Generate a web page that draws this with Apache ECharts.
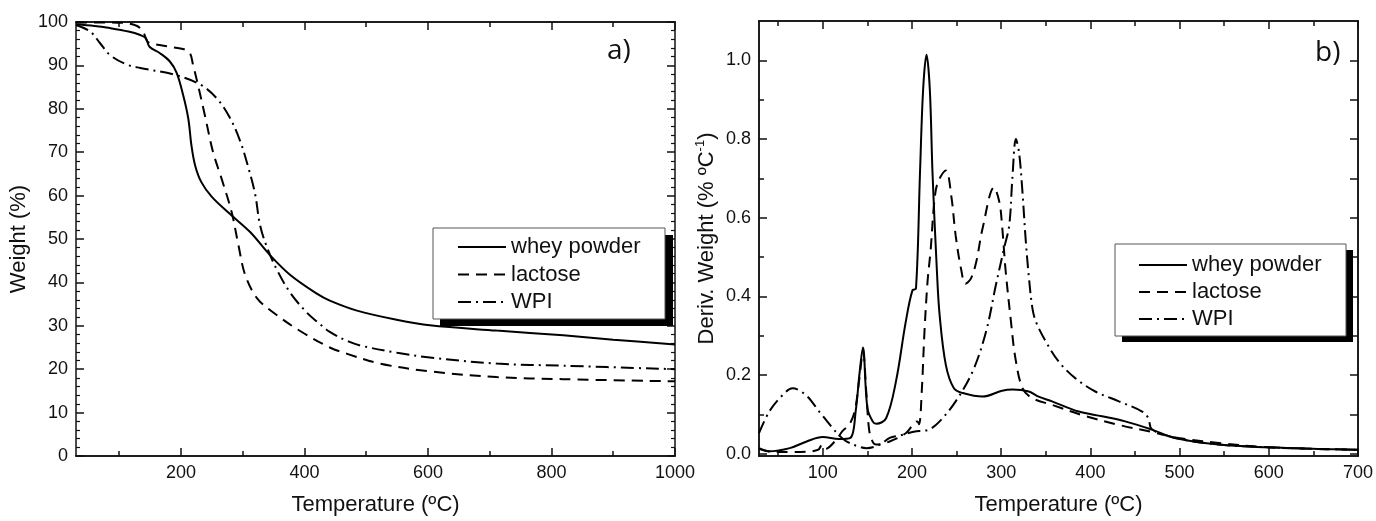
<!DOCTYPE html>
<html>
<head>
<meta charset="utf-8">
<script src="https://cdn.jsdelivr.net/npm/echarts@6/dist/echarts.min.js"></script>
<style>
  html, body { margin: 0; padding: 0; background: #fff; }
  #main { width: 1376px; height: 521px; }
</style>
</head>
<body>
<div id="main"></div>
<script>
var FONT = 'Liberation Sans';
var INK = '#111';

// a) TGA curves, temperature (ºC) vs weight (%)
var wheyT = [30, 60, 85, 115, 134, 143, 149, 166, 182, 193, 204, 212, 217, 223, 233, 250, 279, 312, 344, 377, 420, 441, 485, 549, 603, 711, 819, 900, 1000];
var wheyW = [99.4, 99.1, 98.6, 97.8, 97.0, 96.3, 94.3, 92.8, 90.9, 88.3, 82.9, 77.6, 71.5, 66.9, 63.1, 59.7, 55.8, 51.6, 46.3, 41.7, 37.4, 35.8, 33.5, 31.4, 30.1, 28.9, 27.8, 26.8, 25.7];
var lactT = [30, 70, 107, 125, 134, 140, 145, 150, 177, 212, 220, 228, 239, 252, 266, 282, 293, 304, 323, 350, 393, 441, 468, 522, 603, 711, 819, 1000];
var lactW = [99.8, 99.9, 99.8, 99.3, 98.6, 97.4, 95.6, 95.1, 94.4, 93.2, 89.8, 85.2, 78.3, 70.0, 63.8, 56.2, 48.6, 41.7, 36.4, 33.0, 28.8, 25.0, 23.6, 21.3, 19.5, 18.2, 17.7, 17.2];
var wpiT = [30, 53, 69, 85, 112, 134, 188, 231, 258, 279, 296, 309, 320, 328, 339, 355, 377, 404, 420, 441, 471, 495, 550, 603, 711, 819, 1000];
var wpiW = [99.3, 97.8, 95.1, 92.4, 90.2, 89.4, 87.9, 85.6, 82.4, 78.0, 72.5, 66.5, 60.4, 53.2, 48.2, 43.0, 37.6, 33.0, 31.0, 28.6, 26.4, 25.3, 23.8, 22.7, 21.3, 20.8, 20.0];

// b) DTG curves, temperature (ºC) vs deriv. weight (% ºC-1)
var wheyDT = [28.5, 40, 63, 82, 100, 118, 131, 137, 141, 145, 150, 156, 160, 171, 182, 193, 200.5, 204.5, 209, 212.5, 216.3, 220, 223, 228, 231, 238, 247, 257, 279, 301, 313, 331, 342, 357, 387, 413, 439, 469, 495, 544, 599, 655, 700];
var wheyDV = [0.014, 0.006, 0.014, 0.031, 0.042, 0.037, 0.04, 0.11, 0.2, 0.27, 0.116, 0.082, 0.076, 0.09, 0.183, 0.335, 0.415, 0.42, 0.715, 0.926, 1.014, 0.926, 0.715, 0.462, 0.352, 0.225, 0.166, 0.154, 0.145, 0.16, 0.163, 0.158, 0.145, 0.133, 0.107, 0.095, 0.082, 0.061, 0.04, 0.023, 0.016, 0.012, 0.01];
var lactDT = [28.5, 45, 63, 82, 95, 99, 103, 115, 122, 130, 136, 141, 145, 149, 152, 156, 160, 175, 193, 206, 208, 211, 214, 217.4, 221, 225, 229, 238, 244, 249, 255, 260, 266, 272, 279, 292, 298, 301, 305, 311, 316, 324, 335, 357, 395, 432, 469, 499, 544, 599, 655, 700];
var lactDV = [0.012, 0.004, 0.004, 0.005, 0.01, 0.022, 0.012, 0.035, 0.057, 0.075, 0.11, 0.19, 0.26, 0.15, 0.06, 0.03, 0.023, 0.031, 0.052, 0.082, 0.075, 0.16, 0.31, 0.436, 0.52, 0.64, 0.69, 0.72, 0.656, 0.554, 0.47, 0.432, 0.445, 0.487, 0.571, 0.677, 0.639, 0.58, 0.465, 0.335, 0.242, 0.166, 0.141, 0.124, 0.095, 0.073, 0.055, 0.04, 0.027, 0.016, 0.012, 0.01];
var wpiDT = [28.5, 40, 55, 66, 81, 96, 111, 119, 126, 140, 149, 164, 175, 186, 205, 212, 220, 231, 249, 268, 283, 294, 303, 309, 312.5, 316.5, 320, 323.6, 327.4, 331, 335, 339, 350, 364.5, 383, 405.5, 432, 458, 465, 469, 495, 544, 599, 655, 700];
var wpiDV = [0.052, 0.107, 0.149, 0.166, 0.149, 0.107, 0.065, 0.045, 0.032, 0.018, 0.014, 0.023, 0.04, 0.046, 0.057, 0.058, 0.062, 0.082, 0.133, 0.209, 0.31, 0.428, 0.52, 0.58, 0.698, 0.8, 0.766, 0.673, 0.546, 0.45, 0.37, 0.335, 0.285, 0.234, 0.192, 0.158, 0.133, 0.107, 0.09, 0.062, 0.04, 0.023, 0.016, 0.012, 0.01];

// tick positions
var tgaXLabels = [200, 400, 600, 800, 1000];
var tgaXMinor = [100, 300, 500, 700, 900];
var dtgXLabels = [100, 200, 300, 400, 500, 600, 700];
var dtgXMinor = [50, 150, 250, 350, 450, 550, 650];
var dtgYLabels = [0, 0.2, 0.4, 0.6, 0.8, 1.0];
var dtgYMinor = [0.1, 0.3, 0.5, 0.7, 0.9];

var seriesNames = ['whey powder', 'lactose', 'WPI'];
var dashes = ['solid', [11, 7], [13, 5, 2, 5]];

function pairs(xs, ys) {
  return xs.map(function (x, i) { return [x, ys[i]]; });
}

var nameStyle = { fontSize: 22, fontFamily: FONT, color: INK };
var lblStyle = { fontSize: 18, fontFamily: FONT, color: INK, margin: 8 };

function axis(grid, pos, min, max, ticks, len, labels) {
  var a = {
    type: 'value', gridIndex: grid, position: pos, min: min, max: max,
    axisLine: { show: true, onZero: false, lineStyle: { color: INK, width: 1.5 } },
    axisTick: { show: true, inside: true, length: len, customValues: ticks, lineStyle: { color: INK, width: 1.5 } },
    axisLabel: { show: false },
    splitLine: { show: false }
  };
  if (labels) {
    a.axisLabel = Object.assign({ show: true, customValues: labels, formatter: function (v) { return String(v); } }, lblStyle);
  }
  return a;
}

var xAxes = [
  axis(0, 'bottom', 30, 1000, tgaXLabels, 8, tgaXLabels),
  axis(0, 'bottom', 30, 1000, tgaXMinor, 5),
  axis(0, 'top', 30, 1000, tgaXLabels, 8),
  axis(0, 'top', 30, 1000, tgaXMinor, 5),
  axis(1, 'bottom', 28.5, 700, dtgXLabels, 8, dtgXLabels),
  axis(1, 'bottom', 28.5, 700, dtgXMinor, 5),
  axis(1, 'top', 28.5, 700, dtgXLabels, 8),
  axis(1, 'top', 28.5, 700, dtgXMinor, 5)
];
[0, 4].forEach(function (i) {
  xAxes[i].name = 'Temperature (ºC)';
  xAxes[i].nameLocation = 'middle';
  xAxes[i].nameGap = 38;
  xAxes[i].nameTextStyle = nameStyle;
});

function tgaY(pos, showLabels) {
  return {
    type: 'value', gridIndex: 0, position: pos, min: 0, max: 100, interval: 10,
    axisLine: { show: true, lineStyle: { color: INK, width: 1.5 } },
    axisTick: { show: true, inside: true, length: 8, lineStyle: { color: INK, width: 1.5 } },
    minorTick: { show: true, splitNumber: 5, length: 4, lineStyle: { color: INK, width: 1.2 } },
    axisLabel: showLabels ? Object.assign({ show: true }, lblStyle) : { show: false },
    splitLine: { show: false }
  };
}

var yAxes = [
  tgaY('left', true),
  tgaY('right', false),
  axis(1, 'left', -0.006, 1.1, dtgYLabels, 8, dtgYLabels),
  axis(1, 'left', -0.006, 1.1, dtgYMinor, 5),
  axis(1, 'right', -0.006, 1.1, dtgYLabels, 8),
  axis(1, 'right', -0.006, 1.1, dtgYMinor, 8)
];
yAxes[0].name = 'Weight (%)';
yAxes[0].nameLocation = 'middle';
yAxes[0].nameGap = 46;
yAxes[0].nameTextStyle = nameStyle;
yAxes[2].axisLabel.formatter = function (v) { return v.toFixed(1); };
yAxes[2].name = '{a|Deriv. Weight (% ºC}{s|-1}{a|)}';
yAxes[2].nameLocation = 'middle';
yAxes[2].nameGap = 39;
yAxes[2].nameTextStyle = {
  color: INK,
  rich: {
    a: { fontSize: 22, fontFamily: FONT, color: INK, lineHeight: 26 },
    s: { fontSize: 13, fontFamily: FONT, color: INK, verticalAlign: 'top', lineHeight: 26 }
  }
};

function line(name, data, xi, yi, k) {
  return {
    name: name, type: 'line', xAxisIndex: xi, yAxisIndex: yi, data: data,
    showSymbol: false, symbol: 'none', smooth: 0.35,
    lineStyle: { color: '#000', width: 2, type: dashes[k] },
    itemStyle: { color: '#000' },
    silent: true, z: 2
  };
}

var series = [
  line(seriesNames[0], pairs(wheyT, wheyW), 0, 0, 0),
  line(seriesNames[1], pairs(lactT, lactW), 0, 0, 1),
  line(seriesNames[2], pairs(wpiT, wpiW), 0, 0, 2),
  line(seriesNames[0], pairs(wheyDT, wheyDV), 4, 2, 0),
  line(seriesNames[1], pairs(lactDT, lactDV), 4, 2, 1),
  line(seriesNames[2], pairs(wpiDT, wpiDV), 4, 2, 2)
];

function legend(left, top, gap) {
  return {
    data: seriesNames, orient: 'vertical', left: left, top: top, padding: 0,
    itemWidth: 48, itemHeight: 14, itemGap: gap, selectedMode: false, z: 6,
    itemStyle: { opacity: 0 },
    textStyle: { fontSize: 22, fontFamily: FONT, color: INK, lineHeight: 22 }
  };
}

var chart = echarts.init(document.getElementById('main'));
chart.setOption({
  animation: false,
  backgroundColor: '#fff',
  grid: [
    { left: 76, top: 22, width: 599, height: 437 },
    { left: 759, top: 21, width: 601, height: 437 }
  ],
  xAxis: xAxes,
  yAxis: yAxes,
  legend: [legend(457, 236, 5.5), legend(1138, 254, 5)],
  graphic: [
    { type: 'rect', z: 4, shape: { x: 440, y: 235, width: 233, height: 91 }, style: { fill: '#000' } },
    { type: 'rect', z: 5, shape: { x: 433, y: 228, width: 232, height: 91 }, style: { fill: '#fff', stroke: '#555', lineWidth: 1 } },
    { type: 'rect', z: 4, shape: { x: 1122, y: 250, width: 231, height: 92 }, style: { fill: '#000' } },
    { type: 'rect', z: 5, shape: { x: 1115, y: 244, width: 231, height: 92 }, style: { fill: '#fff', stroke: '#555', lineWidth: 1 } },
    { type: 'text', z: 6, left: 607, top: 37, style: { text: 'a)', font: '28px "Open Sans"', fill: INK } },
    { type: 'text', z: 6, left: 1315, top: 39, style: { text: 'b)', font: '28px "Open Sans"', fill: INK } }
  ],
  series: series
});
</script>
</body>
</html>
